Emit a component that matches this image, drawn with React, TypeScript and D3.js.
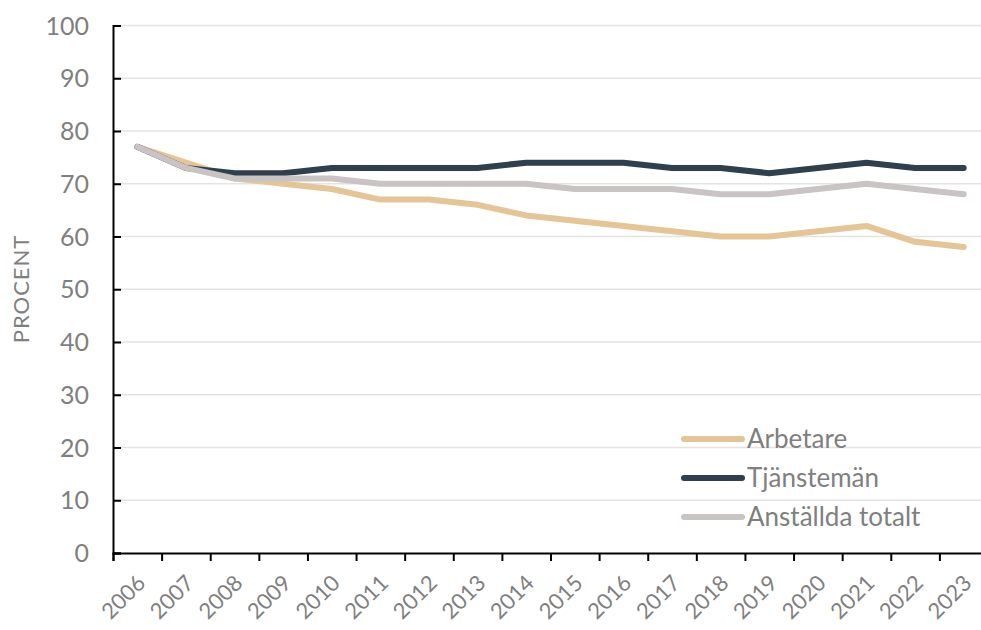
import * as d3 from 'd3';
import React, { useRef, useEffect } from 'react';

const years = ['2006', '2007', '2008', '2009', '2010', '2011', '2012', '2013', '2014', '2015', '2016', '2017', '2018', '2019', '2020', '2021', '2022', '2023'];
const arbetare = [77, 74, 71, 70, 69, 67, 67, 66, 64, 63, 62, 61, 60, 60, 61, 62, 59, 58];
const tjansteman = [77, 73, 72, 72, 73, 73, 73, 73, 74, 74, 74, 73, 73, 72, 73, 74, 73, 73];
const totalt = [77, 73, 71, 71, 71, 70, 70, 70, 70, 69, 69, 69, 68, 68, 69, 70, 69, 68];
const yTicks = [0, 10, 20, 30, 40, 50, 60, 70, 80, 90, 100];

const seriesNames = ['Arbetare', 'Tjänstemän', 'Anställda totalt'];
const seriesColors = ['#e5c595', '#2e3f4d', '#c9c3c3'];

function Chart({ width, height }) {
    const ref = useRef();

    useEffect(() => {
        draw();
    }, []);

    const draw = () => {
        const svg = d3.select(ref.current);
        svg.selectAll('*').remove();

        const left = 113, top = 25.5, bottom = 553, right = 988;
        const font = 'Lato, "Open Sans", sans-serif';
        const textColor = '#7f7f7f';

        const x = d3.scaleBand().domain(years).range([left, right]);
        const y = d3.scaleLinear().domain([0, 100]).range([bottom, top]);

        // gridlines
        svg.append('g')
            .selectAll('line')
            .data(yTicks.filter(d => d > 0))
            .enter()
            .append('line')
            .attr('x1', left)
            .attr('x2', width)
            .attr('y1', d => y(d))
            .attr('y2', d => y(d))
            .attr('stroke', '#e3e3e3')
            .attr('stroke-width', 1.5);

        // y axis
        const yAxis = svg.append('g')
            .attr('transform', 'translate(' + left + ',0)')
            .call(d3.axisRight(y).tickValues(yTicks).tickSize(8).tickFormat(() => ''));
        yAxis.select('.domain').attr('stroke', '#000').attr('stroke-width', 2);
        yAxis.selectAll('.tick line').attr('stroke', '#000').attr('stroke-width', 2);

        svg.append('g')
            .selectAll('text')
            .data(yTicks)
            .enter()
            .append('text')
            .attr('x', 89)
            .attr('y', d => y(d))
            .attr('dy', '0.36em')
            .attr('text-anchor', 'end')
            .style('font-family', font)
            .style('font-size', '25px')
            .style('fill', textColor)
            .text(d => d);

        // x axis
        const xAxis = svg.append('g')
            .attr('transform', 'translate(0,' + bottom + ')')
            .call(d3.axisBottom(d3.scaleLinear().domain([0, years.length]).range([left, right]))
                .tickValues(d3.range(years.length))
                .tickSize(8)
                .tickFormat(() => ''));
        xAxis.select('.domain').attr('stroke', '#000').attr('stroke-width', 2);
        xAxis.selectAll('.tick line').attr('stroke', '#000').attr('stroke-width', 2);

        svg.append('g')
            .selectAll('text')
            .data(years)
            .enter()
            .append('text')
            .attr('transform', d => 'translate(' + (x(d) + x.bandwidth() / 2 + 4) + ',' + (bottom + 26) + ') rotate(-45)')
            .attr('text-anchor', 'end')
            .attr('dy', '0.35em')
            .style('font-family', font)
            .style('font-size', '22px')
            .style('fill', textColor)
            .text(d => d);

        // y title
        svg.append('text')
            .attr('transform', 'translate(29,' + 289 + ') rotate(-90)')
            .attr('text-anchor', 'middle')
            .style('font-family', font)
            .style('font-size', '22px')
            .style('letter-spacing', '1px')
            .style('fill', textColor)
            .text('PROCENT');

        // lines
        const line = d3.line()
            .x((d, i) => x(years[i]) + x.bandwidth() / 2)
            .y(d => y(d));

        [arbetare, tjansteman, totalt].forEach((s, i) => {
            svg.append('path')
                .datum(s)
                .attr('d', line)
                .attr('fill', 'none')
                .attr('stroke', seriesColors[i])
                .attr('stroke-width', 6)
                .attr('stroke-linecap', 'round')
                .attr('stroke-linejoin', 'round');
        });

        // legend
        const legend = svg.append('g');
        seriesNames.forEach((name, i) => {
            const ly = 439 + i * 39;
            legend.append('line')
                .attr('x1', 684)
                .attr('x2', 742)
                .attr('y1', ly)
                .attr('y2', ly)
                .attr('stroke', seriesColors[i])
                .attr('stroke-width', 6)
                .attr('stroke-linecap', 'round');
            legend.append('text')
                .attr('x', 747)
                .attr('y', ly)
                .attr('dy', '0.36em')
                .style('font-family', font)
                .style('font-size', '26px')
                .style('fill', textColor)
                .text(name);
        });
    };

    return (
        <svg ref={ref} width={width} height={height} style={{ position: 'absolute', left: 0, top: 0, background: '#fff' }}>
        </svg>
    );
}

export default function App() {
    return <Chart width={981} height={630} />;
}
